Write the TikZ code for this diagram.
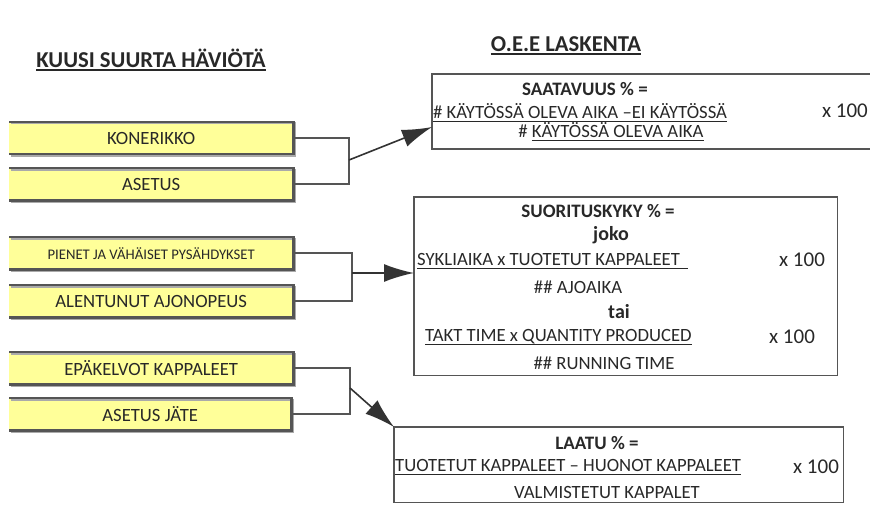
\documentclass[tikz,border=0pt]{standalone}
\usepackage{fontspec}
\setmainfont{Carlito}
\usetikzlibrary{arrows.meta}
\definecolor{lossyellow}{RGB}{255,255,153}
\definecolor{edgegray}{RGB}{85,85,85}
\definecolor{shadowgray}{RGB}{170,170,170}
\definecolor{txt}{RGB}{40,40,40}
\newcommand\myul[2][1.1pt]{\setbox0\hbox{#2}\rlap{\rule[-3.2pt]{\wd0}{#1}}\box0}
\tikzset{
  lossbox/.style={fill=lossyellow, inner sep=0pt, minimum width=284pt, minimum height=32pt, anchor=north west, text=txt},
  boxedge/.style={draw=edgegray, line width=2.2pt},
  boxshadow/.style={draw=shadowgray, line width=2pt},
  conn/.style={draw=edgegray, line width=1.6pt},
  arr/.style={conn, -{Latex[length=30pt,width=18pt]}, draw=black!80, fill=black},
  frame/.style={draw=edgegray, line width=1.4pt},
  ftxt/.style={text=txt, inner sep=0pt, font=\fontsize{18.7}{20}\selectfont},
  fbold/.style={text=txt, inner sep=0pt, font=\bfseries\fontsize{19}{20}\selectfont},
  times/.style={text=txt, inner sep=0pt, font=\fontsize{21}{22}\selectfont},
  ttl/.style={text=txt, inner sep=0pt, font=\bfseries\fontsize{22.7}{24}\selectfont},
}
\begin{document}
\begin{tikzpicture}[x=1pt,y=-1pt]
\useasboundingbox (0,0) rectangle (870,508);

% titles
\node[ttl] (t1) at (151,60) {\myul[1.8pt]{KUUSI SUURTA HÄVIÖTÄ}};
\node[ttl] (t2) at (566,46) {\myul[1.8pt]{O.E.E LASKENTA}};

% loss boxes
\foreach \nm/\y/\w/\lbl/\fs in {kone/122/284/KONERIKKO/18.7, aset/168/284/ASETUS/18.7, pien/237/284/PIENET JA VÄHÄISET PYSÄHDYKSET/14.7, alen/285/284/ALENTUNUT AJONOPEUS/18.7, epak/352/284/EPÄKELVOT KAPPALEET/18.7, asetj/398/282/ASETUS JÄTE/18.7}{
  \node[lossbox, minimum width=\w pt, font=\fontsize{\fs}{20}\selectfont] (\nm) at (9,\y) {\lbl};
  \draw[boxshadow] ([xshift=1.5pt,yshift=-1.5pt]\nm.north west) -- ([xshift=1.5pt,yshift=-1.5pt]\nm.north east) -- ([xshift=1.5pt,yshift=-1.5pt]\nm.south east) -- ([xshift=1.5pt,yshift=-1.5pt]\nm.south west);
  \draw[boxedge] (\nm.north west) -- (\nm.north east) -- (\nm.south east) -- (\nm.south west);
}

% formula frames
\coordinate (sNW) at (432,74);
\coordinate (sSW) at (432,149);
\draw[frame] (870,74) -- (sNW) -- (sSW) -- (870,149);
\node[draw=none, inner sep=0pt, minimum width=423pt, minimum height=178pt, anchor=north west] (suor) at (414,197) {};
\draw[frame] (suor.north west) rectangle (suor.south east);
\node[draw=none, inner sep=0pt, minimum width=449pt, minimum height=75pt, anchor=north west] (laatu) at (394,427) {};
\draw[frame] (laatu.north west) rectangle (laatu.south east);

% SAATAVUUS texts
\node[fbold] (s1) at (585,89) {SAATAVUUS \% =};
\node[ftxt, anchor=west] (s2) at (433,113) {\myul{\# KÄYTÖSSÄ OLEVA AIKA –EI KÄYTÖSSÄ}};
\node[times, anchor=east] (s3) at (868,111) {x 100};
\node[ftxt] (s4) at (611,132) {\# \myul{KÄYTÖSSÄ OLEVA AIKA}};

% SUORITUSKYKY texts
\node[fbold] (p1) at (598,211) {SUORITUSKYKY \% =};
\node[fbold, font=\bfseries\fontsize{20}{22}\selectfont] (p2) at (611,235) {joko};
\node[ftxt, anchor=west] (p3) at (417,261) {\myul{SYKLIAIKA x TUOTETUT KAPPALEET\ \ }};
\node[times] (p4) at (802,260) {x 100};
\node[ftxt] (p5) at (578,287) {\#\# AJOAIKA};
\node[fbold, font=\bfseries\fontsize{20}{22}\selectfont] (p6) at (619,312) {tai};
\node[ftxt, anchor=west] (p7) at (425,337) {\myul{TAKT TIME x QUANTITY PRODUCED}};
\node[times] (p8) at (792,337) {x 100};
\node[ftxt] (p9) at (604,363) {\#\# RUNNING TIME};

% LAATU texts
\node[fbold] (l1) at (597,443) {LAATU \% =};
\node[ftxt, anchor=west] (l2) at (395,467) {\myul{TUOTETUT KAPPALEET – HUONOT KAPPALEET}};
\node[times] (l3) at (816,467) {x 100};
\node[ftxt] (l4) at (607,492) {VALMISTETUT KAPPALET};

% connectors
\coordinate (j1) at (349,160);
\coordinate (a1) at (432,127);
\draw[conn] (kone.east) -| (j1) |- (aset.east);
\draw[arr] (j1) -- (a1);

\coordinate (j2) at (352,273);
\draw[conn] (pien.east) -| (j2) |- (alen.east);
\draw[arr] (j2) -- (suor.west |- j2);

\coordinate (j3) at (350,388);
\draw[conn] (epak.east) -| (j3) |- (asetj.east);
\draw[arr] (j3) -- (laatu.north west);
\end{tikzpicture}
\end{document}
